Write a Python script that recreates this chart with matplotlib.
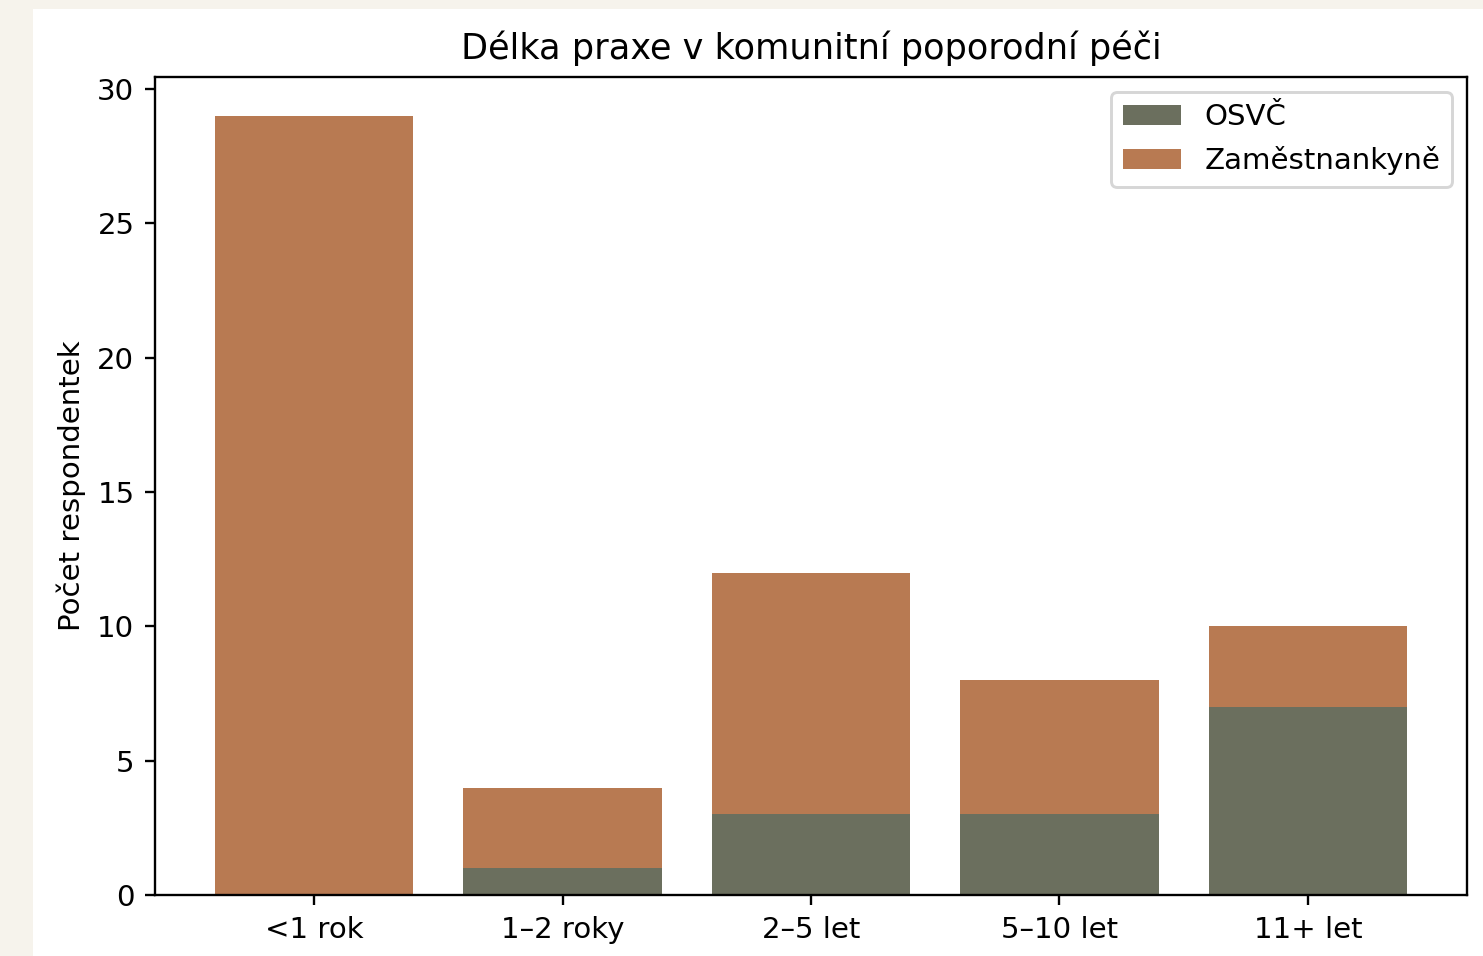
import matplotlib.pyplot as plt
from matplotlib.patches import Rectangle

kategorie = ['<1 rok', '1–2 roky', '2–5 let', '5–10 let', '11+ let']
osvc = [0, 1, 3, 3, 7]
zamestnankyne = [29, 3, 9, 5, 3]

barva_osvc = '#6b6f5e'
barva_zam = '#b87a52'

DPI = 211
fig = plt.figure(figsize=(1483 / DPI, 956 / DPI), dpi=DPI, facecolor='#f6f3ec')
# white canvas of the original screenshot
fig.patches.append(Rectangle((33 / 1483, 0), 1 - 33 / 1483, 1 - 9 / 956,
                             transform=fig.transFigure, facecolor='white',
                             edgecolor='none', zorder=-10))

ax = fig.add_axes([155 / 1483, 1 - 895 / 956, (1467 - 155) / 1483, (895 - 77) / 956])
x = range(len(kategorie))
ax.bar(x, osvc, color=barva_osvc, label='OSVČ')
ax.bar(x, zamestnankyne, bottom=osvc, color=barva_zam, label='Zaměstnankyně')

ax.set_xticks(list(x))
ax.set_xticklabels(kategorie)
ax.set_ylabel('Počet respondentek')
ax.set_title('Délka praxe v komunitní poporodní péči')
ax.legend(loc='upper right')

fig.savefig('out.png', dpi=DPI, facecolor=fig.get_facecolor())
